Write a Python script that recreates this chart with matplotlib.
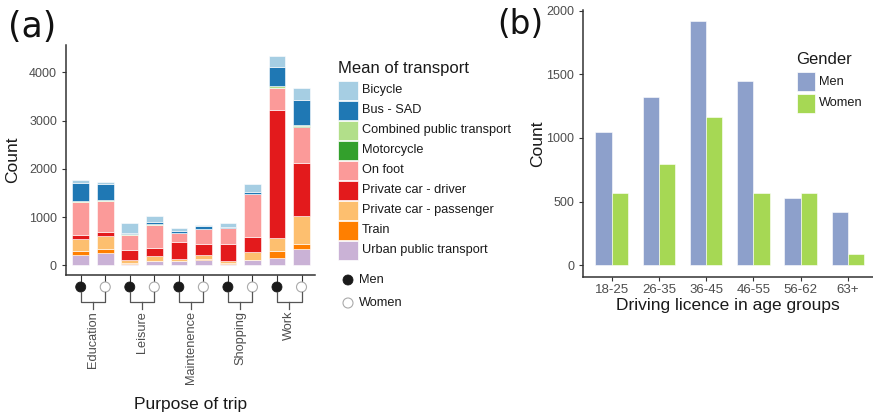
import matplotlib
matplotlib.use("Agg")
from matplotlib import pyplot as plt
from matplotlib.patches import Rectangle, Circle
import numpy as np

plt.rcParams['font.family'] = ['Liberation Sans', 'DejaVu Sans']

# ---- panel (a) data: 10 bars = (purpose, gender) pairs ----
purposes = ['Education', 'Leisure', 'Maintenence', 'Shopping', 'Work']
genders = ['Men', 'Women']
modes = ['Bicycle', 'Bus - SAD', 'Combined public transport', 'Motorcycle',
         'On foot', 'Private car - driver', 'Private car - passenger',
         'Train', 'Urban public transport']
mode_colors = ['#A6CEE3', '#1F78B4', '#B2DF8A', '#33A02C', '#FB9A99',
               '#E31A1C', '#FDBF6F', '#FF7F00', '#CAB2D6']

#            EduM EduW LeiM LeiW MaiM MaiW ShoM ShoW WorkM WorkW
urban      = [207, 248, 34, 83, 83, 117, 34, 103, 159, 331]
train      = [90, 97, 14, 10, 8, 21, 10, 10, 131, 103]
passenger  = [240, 262, 62, 107, 40, 83, 46, 170, 282, 594]
driver     = [97, 76, 214, 152, 345, 213, 345, 310, 2656, 1082]
on_foot    = [676, 648, 304, 489, 186, 318, 338, 883, 441, 766]
motorcycle = [6, 6, 3, 3, 3, 3, 3, 3, 8, 6]
combined   = [15, 15, 8, 8, 6, 6, 5, 8, 30, 15]
bus        = [372, 324, 30, 51, 32, 46, 10, 37, 410, 531]
bicycle    = [69, 41, 200, 125, 69, 27, 92, 166, 228, 255]

# ---- panel (b) data ----
age_groups = ['18-25', '26-35', '36-45', '46-55', '56-62', '63+']
licence_men = [1043, 1321, 1921, 1450, 527, 417]
licence_women = [571, 799, 1164, 571, 571, 92]

W, H = 873, 413
fig = plt.figure(figsize=(W / 100, H / 100), dpi=100)

def box(l, t, r, b):
    return [l / W, 1 - b / H, (r - l) / W, (b - t) / H]

grey = '#4D4D4D'
spine_c = '#333333'
dark = '#1a1a1a'

def style(ax):
    for s in ['top', 'right']:
        ax.spines[s].set_visible(False)
    for s in ['left', 'bottom']:
        ax.spines[s].set_color(spine_c)
        ax.spines[s].set_linewidth(1.1)
    ax.tick_params(colors='#333333', labelcolor=grey, labelsize=9, length=3, width=0.8)

# ---- panel (a) ----
ax = fig.add_axes(box(66, 45, 315, 275))
style(ax)
x = np.arange(len(urban))
stack = [(urban, 8), (train, 7), (passenger, 6), (driver, 5), (on_foot, 4),
         (motorcycle, 3), (combined, 2), (bus, 1), (bicycle, 0)]
bottom = np.zeros(len(x))
for vals, ci in stack:
    ax.bar(x, vals, bottom=bottom, width=0.68, color=mode_colors[ci],
           edgecolor='white', linewidth=0.4)
    bottom += np.array(vals)
ax.set_xlim(-0.6, 9.55)
ax.set_ylim(-201, 4565)
ax.set_yticks([0, 1000, 2000, 3000, 4000])
ax.set_xticks(x)
ax.set_xticklabels([])
ax.tick_params(axis='x', length=6)

# ---- panel (b) ----
bx = fig.add_axes(box(583.3, 10, 873, 276.7))
style(bx)
g = np.arange(len(age_groups))
bw = 0.345
bx.bar(g - bw / 2, licence_men, width=bw, color='#8DA0CB', edgecolor='white', linewidth=0.4)
bx.bar(g + bw / 2, licence_women, width=bw, color='#A6D854', edgecolor='white', linewidth=0.4)
bx.set_xlim(-0.6, 5.53)
bx.set_ylim(-90, 2005)
bx.set_yticks([0, 500, 1000, 1500, 2000])
bx.set_xticks(g)
bx.set_xticklabels(age_groups, fontsize=9.5)
bx.tick_params(axis='x', pad=2)
bx.set_xlabel('Driving licence in age groups', fontsize=12.5, color=dark, labelpad=2)
bx.set_ylabel('Count', fontsize=12.5, color=dark, labelpad=1)

# ---- overlay in pixel coordinates ----
ov = fig.add_axes([0, 0, 1, 1], facecolor='none')
ov.set_xlim(0, W)
ov.set_ylim(H, 0)
ov.axis('off')

def to_px(axis, xv):
    return axis.transData.transform((xv, 0))[0]

# gender circles and brackets under panel (a)
for i, p in enumerate(purposes):
    xm = to_px(ax, 2 * i)
    xw = to_px(ax, 2 * i + 1)
    ov.add_patch(Circle((xm, 287), 5, facecolor=dark, edgecolor=dark, lw=0.6))
    ov.add_patch(Circle((xw, 287), 5, facecolor='white', edgecolor='#aaaaaa', lw=0.8))
    ov.plot([xm, xm, xw, xw], [292, 301.5, 301.5, 292], color='#555555', lw=0.9)
    xc = (xm + xw) / 2
    ov.plot([xc, xc], [301.5, 309], color='#555555', lw=0.9)
    ov.text(xc, 311, p, rotation=90, ha='center', va='top', fontsize=9.2, color=grey)

ov.text(191, 404, 'Purpose of trip', ha='center', va='center', fontsize=12.5, color=dark)
ov.text(13, 160, 'Count', rotation=90, ha='center', va='center', fontsize=12.5, color=dark)
ov.text(8, 27, '(a)', ha='left', va='center', fontsize=25, family='DejaVu Sans', color='#111111')
ov.text(497, 25, '(b)', ha='left', va='center', fontsize=23.5, family='DejaVu Sans', color='#111111')

# legend for transport modes
ov.text(338, 68, 'Mean of transport', ha='left', va='center', fontsize=12, color=dark)
for k, (m, c) in enumerate(zip(modes, mode_colors)):
    yc = 90 + 20 * k
    ov.add_patch(Rectangle((338, yc - 9.5), 20, 19, facecolor=c, edgecolor='white', lw=0.5))
    ov.text(362, yc, m, ha='left', va='center', fontsize=9.2, color=dark)
ov.add_patch(Circle((348, 280), 5, facecolor=dark, edgecolor=dark, lw=0.6))
ov.text(359, 280, 'Men', ha='left', va='center', fontsize=9.2, color=dark)
ov.add_patch(Circle((348, 303), 5, facecolor='white', edgecolor='#aaaaaa', lw=0.8))
ov.text(359, 303, 'Women', ha='left', va='center', fontsize=9.2, color=dark)

# legend for gender in panel (b)
ov.text(796, 60, 'Gender', ha='left', va='center', fontsize=12, color=dark)
ov.add_patch(Rectangle((796.5, 72), 18.5, 19, facecolor='#8DA0CB', edgecolor='white', lw=0.5))
ov.text(819, 82, 'Men', ha='left', va='center', fontsize=9.2, color=dark)
ov.add_patch(Rectangle((796.5, 94), 18.5, 19, facecolor='#A6D854', edgecolor='white', lw=0.5))
ov.text(819, 103, 'Women', ha='left', va='center', fontsize=9.2, color=dark)

fig.savefig('out.png', dpi=100)
